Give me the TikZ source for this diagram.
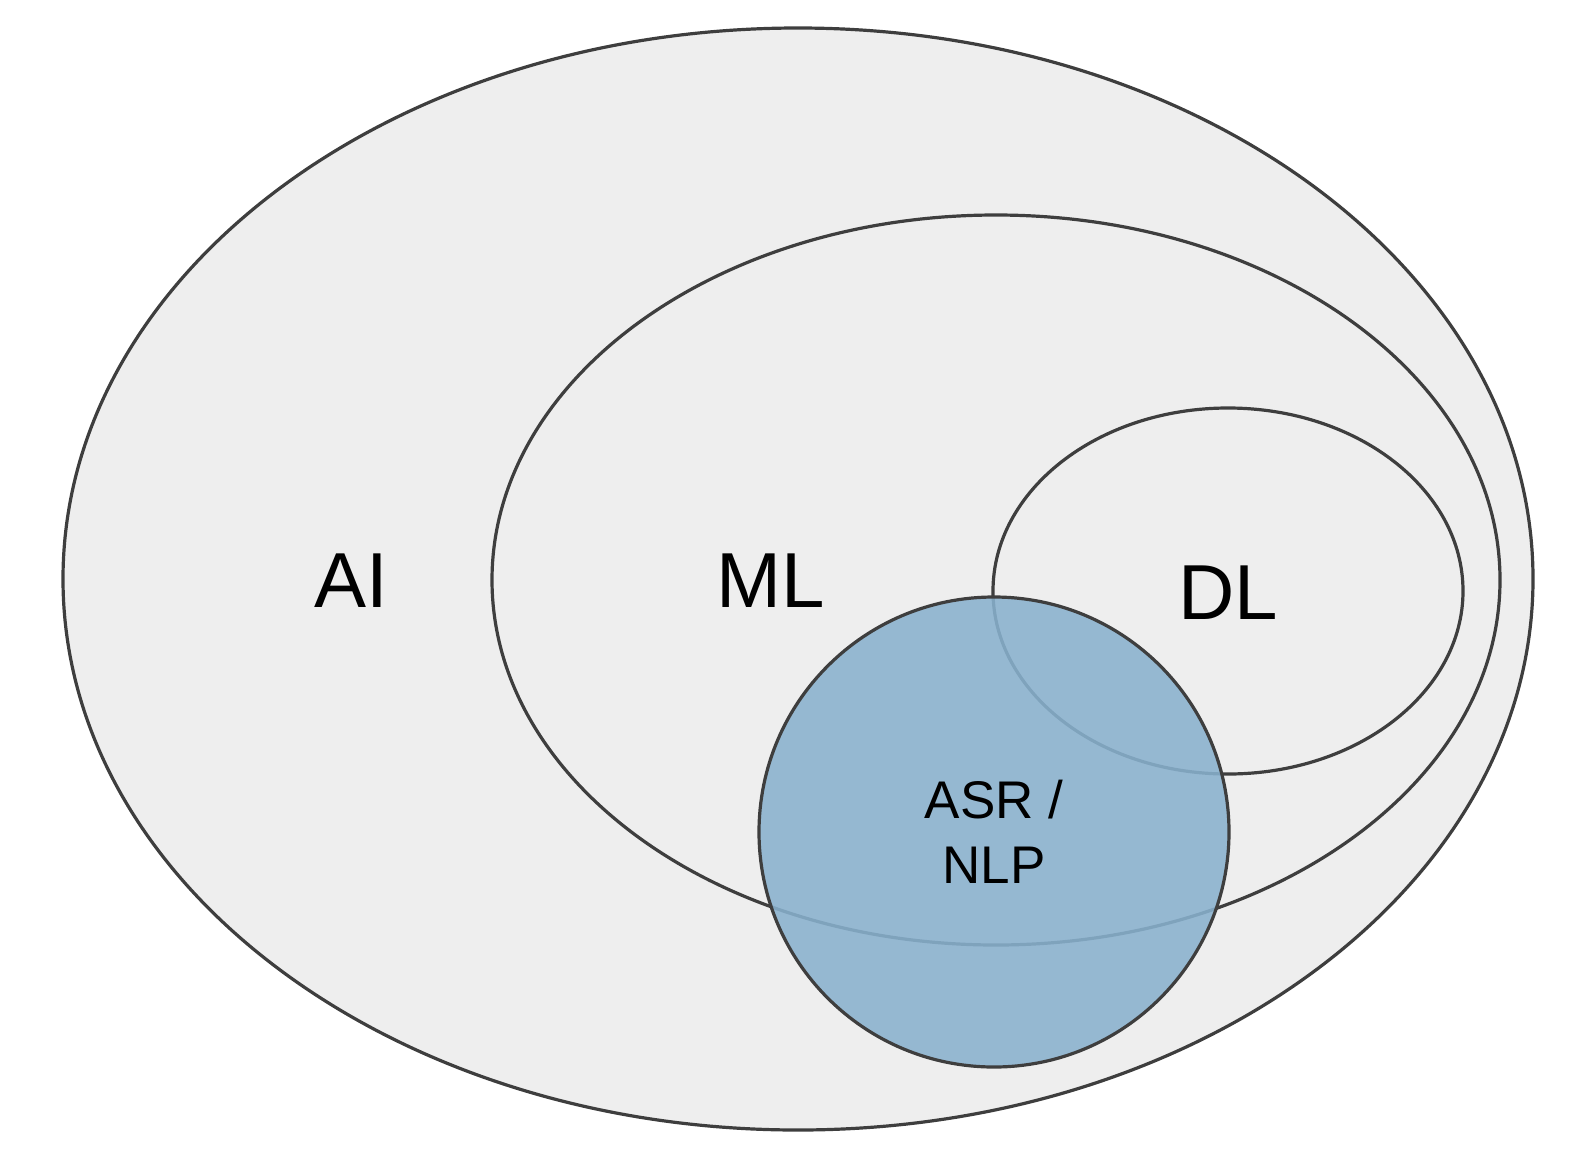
\documentclass[tikz,border=0pt]{standalone}
\usepackage{fontspec}
\setmainfont{Liberation Sans}
\usepackage{tikz}
\usetikzlibrary{positioning}

\definecolor{setgray}{RGB}{238,238,238}
\definecolor{setline}{RGB}{62,62,62}
\definecolor{asrblue}{RGB}{137,177,206}

\tikzset{
  setarea/.style={draw=setline, line width=3.2pt, fill=setgray},
  biglabel/.style={font=\fontsize{78}{94}\selectfont, text=black},
  asrset/.style={circle, draw=setline, line width=3.2pt, fill=asrblue,
    fill opacity=0.88, text opacity=1, minimum size=470pt, inner sep=0pt,
    align=center, font=\fontsize{53}{65}\selectfont}
}

\begin{document}
\begin{tikzpicture}[x=1pt,y=-1pt]
  \useasboundingbox (0,0) rectangle (1581,1157);

  % nested sets
  \draw[setarea] (798,579) ellipse [x radius=735pt, y radius=551pt];
  \draw[setarea] (996,580) ellipse [x radius=504pt, y radius=365pt];
  \draw[setarea] (1228,591) ellipse [x radius=235pt, y radius=183pt];

  \node[biglabel] (ai) at (351,581) {AI};
  \node[biglabel] (ml) at (771,581) {ML};
  \node[biglabel] (dl) at (1228,593) {DL};

  % overlapping application area
  \node[asrset] (asr) at (994,832) {ASR /\\NLP};
\end{tikzpicture}
\end{document}
